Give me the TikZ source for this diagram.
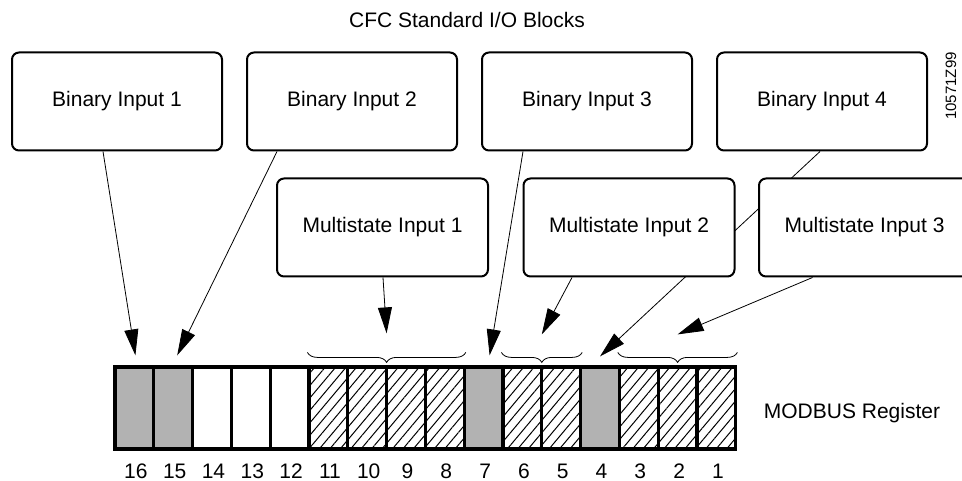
\documentclass[tikz,border=0pt]{standalone}
\usepackage{fontspec}
\setmainfont{Liberation Sans}
\usetikzlibrary{arrows.meta,patterns.meta,decorations.pathreplacing,backgrounds,calc}
\begin{document}
\begin{tikzpicture}[x=1pt,y=-1pt,
  blk/.style={draw,line width=2pt,rounded corners=7pt,fill=white,minimum width=210pt,minimum height=98pt,inner sep=0pt,font=\fontsize{21}{25}\selectfont},
  cell/.style={draw,line width=3.2pt,minimum width=38.8pt,minimum height=82pt,inner sep=0pt},
  bincell/.style={cell,fill=gray!60},
  empcell/.style={cell,fill=white},
  hatcell/.style={cell,preaction={pattern={Lines[angle=50,distance=8pt,line width=1pt]}}},
  arr/.style={line width=0.8pt,-{Triangle[length=26pt,width=14pt]}},
  brc/.style={decorate,decoration={brace,mirror,amplitude=10pt},line width=0.8pt},
  lbl/.style={font=\fontsize{21}{25}\selectfont,inner sep=0pt}]
\useasboundingbox (0,0) rectangle (962,481);

% title and id
\node[lbl,anchor=base] (title) at (467,28) {CFC Standard I/O Blocks};
\node[font=\fontsize{15}{18}\selectfont,inner sep=0pt,rotate=90] (fig) at (951,86) {10571Z99};

% blocks
\node[blk] (bi1) at (117,101.5) {Binary Input 1};
\node[blk] (bi2) at (352,101.5) {Binary Input 2};
\node[blk] (bi3) at (587,101.5) {Binary Input 3};
\node[blk] (bi4) at (822,101.5) {Binary Input 4};
\node[blk,minimum width=211pt] (mi1) at (382.5,227.5) {Multistate Input 1};
\node[blk,minimum width=211pt] (mi2) at (629,227.5) {Multistate Input 2};
\node[blk,minimum width=211pt] (mi3) at (864.5,227.5) {Multistate Input 3};

% register cells
\foreach \n/\s [count=\i from 0] in {16/bincell,15/bincell,14/empcell,13/empcell,12/empcell,11/hatcell,10/hatcell,9/hatcell,8/hatcell,7/bincell,6/hatcell,5/hatcell,4/bincell,3/hatcell,2/hatcell,1/hatcell} {
  \node[\s] (c\n) at ({115+38.8*(\i+0.5)},408) {};
  \node[lbl,anchor=base] (n\n) at ({116.5+38.8*(\i+0.5)},478) {\n};
}
\node[lbl,anchor=base] (modbus) at (852,418) {MODBUS Register};

% braces
\coordinate (b1l) at ($(c11.north west)+(0,-13)$);
\coordinate (b1r) at ($(c8.north east)+(0,-13)$);
\coordinate (b2l) at ($(c6.north west)+(0,-13)$);
\coordinate (b2r) at ($(c5.north east)+(0,-13)$);
\coordinate (b3l) at ($(c3.north west)+(0,-13)$);
\coordinate (b3r) at ($(c1.north east)+(0,-13)$);
\draw[brc] (b1l) -- (b1r);
\draw[brc] (b2l) -- (b2r);
\draw[brc] (b3l) -- (b3r);
\coordinate (t1) at ($(b1l)!0.5!(b1r)+(0,-19)$);
\coordinate (t2) at ($(b2l)!0.5!(b2r)+(0,-18)$);
\coordinate (t3) at ($(b3l)!0.5!(b3r)+(0,-18)$);

% arrow targets on cells
\coordinate (a16) at ($(c16.north)+(1,-10)$);
\coordinate (a15) at ($(c15.north)+(4,-10)$);
\coordinate (a7) at ($(c7.north)+(6,-10)$);
\coordinate (a4) at ($(c4.north)+(0,-9)$);

% connectors (behind the blocks)
\begin{scope}[on background layer]
\draw[arr] ([xshift=-14pt]bi1.south) -- (a16);
\draw[arr] ([xshift=-75pt]bi2.south) -- (a15);
\draw[arr] ([xshift=-64pt]bi3.south) -- (a7);
\draw[arr] ([xshift=-2pt]bi4.south) -- (a4);
\draw[arr] ([xshift=0.5pt]mi1.south) -- (t1);
\draw[arr] ([xshift=-57pt]mi2.south) -- (t2);
\draw[arr] ([xshift=-52pt]mi3.south) -- (t3);
\end{scope}
\end{tikzpicture}
\end{document}
